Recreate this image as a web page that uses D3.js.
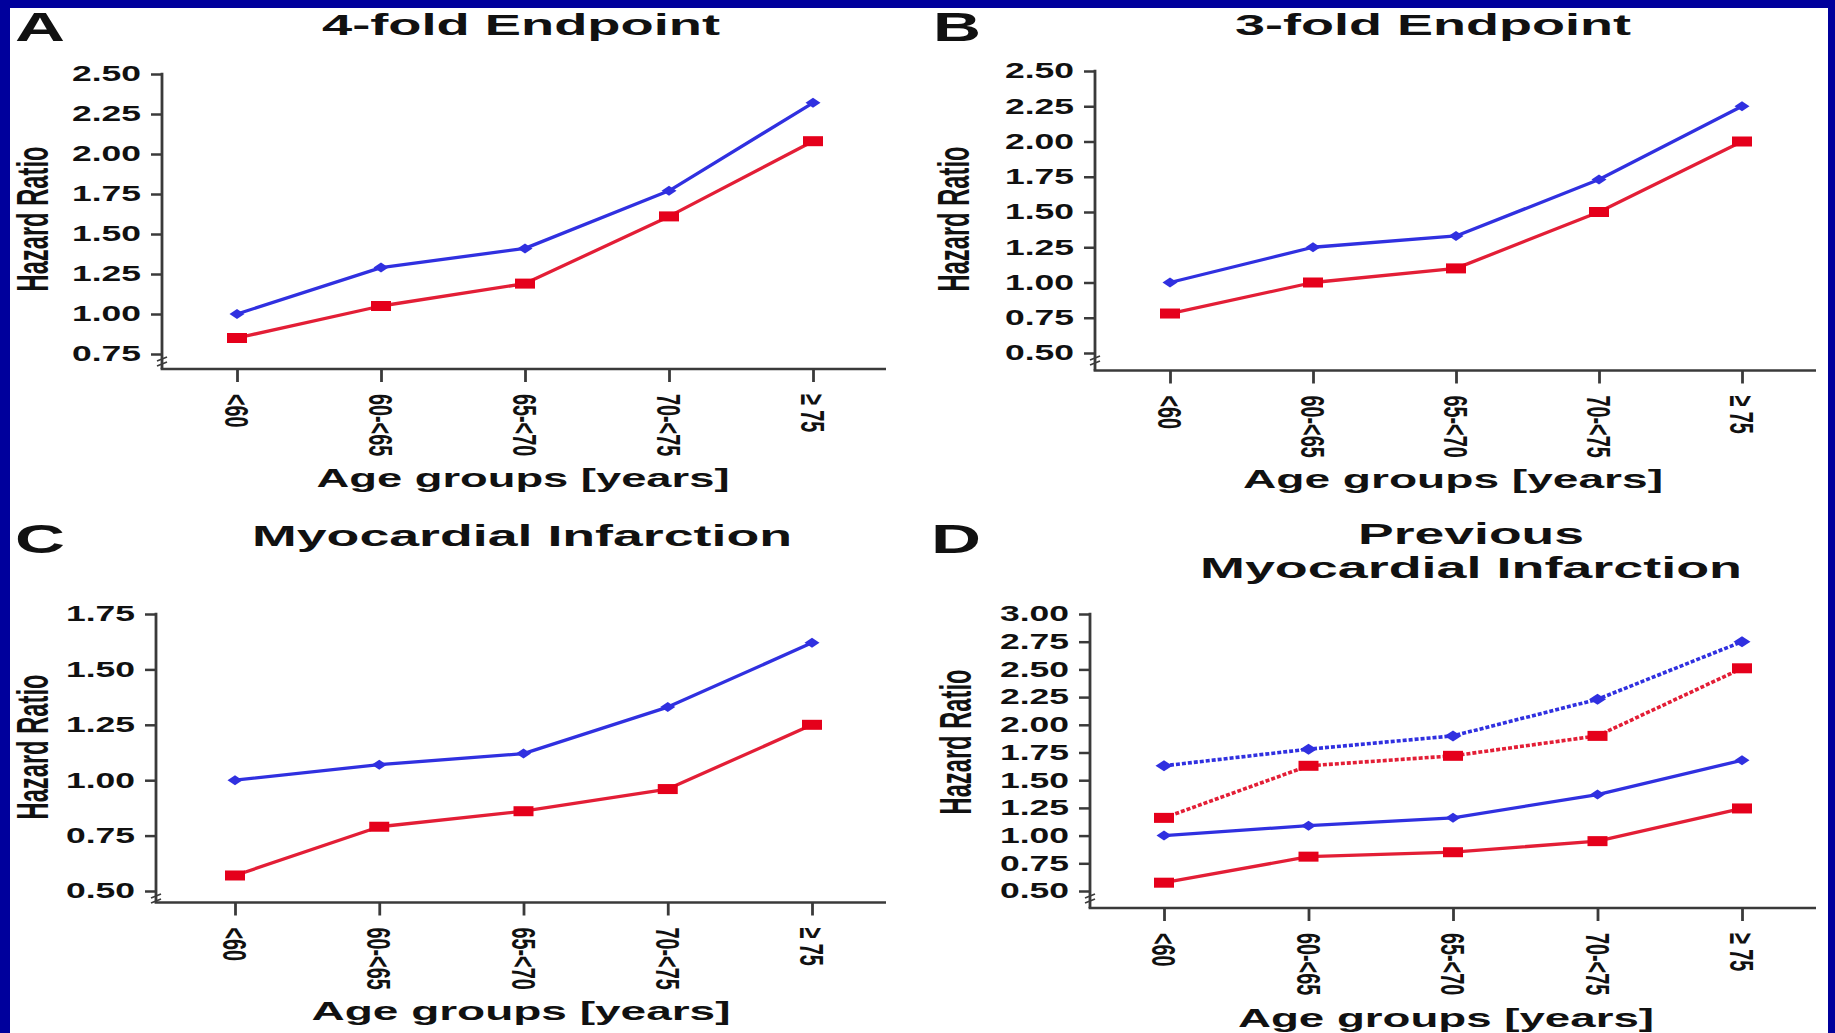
<!DOCTYPE html>
<html><head><meta charset="utf-8">
<script src="https://cdn.jsdelivr.net/npm/d3@7"></script>
<style>body{margin:0;background:#fff;} svg{display:block}</style>
</head><body>
<script>
// ---------------- DATA ----------------
const categories = ["<60", "60-<65", "65-<70", "70-<75", "\u2265 75"];

const yTicksA = [0.75, 1.00, 1.25, 1.50, 1.75, 2.00, 2.25, 2.50];
const yTicksB = [0.50, 0.75, 1.00, 1.25, 1.50, 1.75, 2.00, 2.25, 2.50];
const yTicksC = [0.50, 0.75, 1.00, 1.25, 1.50, 1.75];
const yTicksD = [0.50, 0.75, 1.00, 1.25, 1.50, 1.75, 2.00, 2.25, 2.50, 2.75, 3.00];

const blueA = [1.00, 1.29, 1.41, 1.77, 2.32];
const redA  = [0.85, 1.05, 1.19, 1.61, 2.08];
const blueB = [1.00, 1.25, 1.33, 1.73, 2.25];
const redB  = [0.78, 1.00, 1.10, 1.50, 2.00];
const blueC = [1.00, 1.07, 1.12, 1.33, 1.62];
const redC  = [0.57, 0.79, 0.86, 0.96, 1.25];
const blueDottedD = [1.63, 1.78, 1.90, 2.23, 2.75];
const redDottedD  = [1.16, 1.63, 1.72, 1.90, 2.51];
const blueSolidD  = [1.00, 1.09, 1.16, 1.37, 1.68];
const redSolidD   = [0.575, 0.81, 0.85, 0.95, 1.245];

const titles = {
  A: ["4-fold Endpoint"],
  B: ["3-fold Endpoint"],
  C: ["Myocardial Infarction"],
  D: ["Previous", "Myocardial Infarction"]
};
const yLabel = "Hazard Ratio";
const xLabel = "Age groups [years]";

// ---------------- STYLE / LAYOUT ----------------
const FONT = "'Liberation Sans', Arial, Helvetica, sans-serif";
const BLUE = "#3030e0", RED = "#e31e36", RED_MARK = "#e5001b", AXIS = "#3a3a3a", INK = "#111";

const panels = [
  { key: "A", ticks: yTicksA,
    series: [{v: blueA, c: "blue"}, {v: redA, c: "red"}],
    L: {axisX: 162, x0: 237, x1: 813, yTop: 74, yBot: 354, xAxisY: 369, xEnd: 886,
        letterX: 15, letterY: 41, letterW: 50,
        titleX: 521, titleY: [35], titleW: [398],
        hrX: 48, hrY: 219, agX: 523, agY: 487, agW: 413} },
  { key: "B", ticks: yTicksB,
    series: [{v: blueB, c: "blue"}, {v: redB, c: "red"}],
    L: {axisX: 1095, x0: 1170, x1: 1742, yTop: 71, yBot: 353, xAxisY: 370.5, xEnd: 1816,
        letterX: 933, letterY: 41, letterW: 48,
        titleX: 1433, titleY: [35], titleW: [396],
        hrX: 969, hrY: 219, agX: 1453, agY: 488, agW: 420} },
  { key: "C", ticks: yTicksC,
    series: [{v: blueC, c: "blue"}, {v: redC, c: "red"}],
    L: {axisX: 156, x0: 235, x1: 812, yTop: 614, yBot: 891, xAxisY: 902.5, xEnd: 886,
        letterX: 15, letterY: 553, letterW: 50,
        titleX: 522, titleY: [546], titleW: [540],
        hrX: 48, hrY: 747, agX: 521, agY: 1020, agW: 419} },
  { key: "D", ticks: yTicksD,
    series: [{v: blueDottedD, c: "blue", dotted: true}, {v: redDottedD, c: "red", dotted: true},
             {v: blueSolidD, c: "blue"}, {v: redSolidD, c: "red"}],
    L: {axisX: 1090, x0: 1164, x1: 1742, yTop: 614, yBot: 891, xAxisY: 908, xEnd: 1816,
        letterX: 931, letterY: 553, letterW: 50,
        titleX: 1471, titleY: [544, 578], titleW: [226, 542],
        hrX: 971, hrY: 742, agX: 1446, agY: 1027, agW: 416} }
];

// ---------------- DRAW ----------------
const W = 1835, H = 1033;
const svg = d3.select("body").append("svg").attr("width", W).attr("height", H);
svg.append("rect").attr("width", W).attr("height", H).attr("fill", "#00009c");
svg.append("rect").attr("x", 10).attr("y", 8).attr("width", 1818).attr("height", H - 8).attr("fill", "#fff");

panels.forEach(p => {
  const L = p.L;
  const g = svg.append("g");
  const x = d3.scalePoint().domain(categories).range([L.x0, L.x1]);
  const y = d3.scaleLinear().domain([p.ticks[0], p.ticks[p.ticks.length - 1]]).range([L.yBot, L.yTop]);

  // panel letter
  g.append("text").attr("x", L.letterX).attr("y", L.letterY)
    .attr("font-family", FONT).attr("font-weight", "bold").attr("font-size", 41)
    .attr("textLength", L.letterW).attr("lengthAdjust", "spacingAndGlyphs")
    .attr("fill", INK).text(p.key);

  // title
  titles[p.key].forEach((t, i) => {
    g.append("text").attr("x", L.titleX).attr("y", L.titleY[i])
      .attr("text-anchor", "middle")
      .attr("font-family", FONT).attr("font-weight", "bold").attr("font-size", 29)
      .attr("textLength", L.titleW[i]).attr("lengthAdjust", "spacingAndGlyphs")
      .attr("fill", INK).text(t);
  });

  // y axis
  const ya = g.append("g").attr("transform", `translate(${L.axisX},0)`)
    .call(d3.axisLeft(y).tickValues(p.ticks).tickFormat(d3.format(".2f")).tickSize(11).tickPadding(10));
  ya.select(".domain").remove();
  ya.selectAll(".tick line").attr("stroke", AXIS).attr("stroke-width", 2.5);
  ya.selectAll(".tick text").attr("font-family", FONT).attr("font-weight", "bold")
    .attr("font-size", 21.5).attr("fill", INK)
    .attr("textLength", 69).attr("lengthAdjust", "spacingAndGlyphs");
  g.append("line").attr("x1", L.axisX).attr("x2", L.axisX)
    .attr("y1", y(p.ticks[p.ticks.length - 1]) - 1.2).attr("y2", L.xAxisY)
    .attr("stroke", AXIS).attr("stroke-width", 2.8);

  // axis break marks
  const yb = y(p.ticks[0]);
  [5, 10].forEach(off => {
    g.append("line").attr("x1", L.axisX - 5).attr("x2", L.axisX + 5)
      .attr("y1", yb + off + 2).attr("y2", yb + off - 2)
      .attr("stroke", AXIS).attr("stroke-width", 1.6);
  });

  // x axis
  const xa = g.append("g").attr("transform", `translate(0,${L.xAxisY})`)
    .call(d3.axisBottom(x).tickSize(13).tickFormat(""));
  xa.select(".domain").remove();
  xa.selectAll(".tick line").attr("stroke", AXIS).attr("stroke-width", 2.8);
  g.append("line").attr("x1", L.axisX - 1.4).attr("x2", L.xEnd)
    .attr("y1", L.xAxisY).attr("y2", L.xAxisY)
    .attr("stroke", AXIS).attr("stroke-width", 2.4);

  // rotated category labels
  g.selectAll(".xl").data(categories).join("text").attr("class", "xl")
    .attr("transform", d => `translate(${x(d)},${L.xAxisY + 25}) rotate(90) scale(0.6,1)`)
    .attr("dy", "0.36em")
    .attr("font-family", FONT).attr("font-weight", "bold").attr("font-size", 33).attr("fill", INK)
    .text(d => d);

  // axis titles
  g.append("text").attr("transform", `translate(${L.hrX},${L.hrY}) rotate(-90)`)
    .attr("text-anchor", "middle")
    .attr("font-family", FONT).attr("font-weight", "bold").attr("font-size", 45)
    .attr("textLength", 145).attr("lengthAdjust", "spacingAndGlyphs")
    .attr("fill", INK).text(yLabel);
  g.append("text").attr("x", L.agX).attr("y", L.agY).attr("text-anchor", "middle")
    .attr("font-family", FONT).attr("font-weight", "bold").attr("font-size", 25)
    .attr("textLength", L.agW).attr("lengthAdjust", "spacingAndGlyphs")
    .attr("fill", INK).text(xLabel);

  // series
  const line = d3.line().x((d, i) => x(categories[i])).y(d => y(d));
  p.series.forEach(s => {
    g.append("path").attr("d", line(s.v)).attr("fill", "none")
      .attr("stroke", s.c === "blue" ? BLUE : RED)
      .attr("stroke-width", s.dotted ? 3.6 : 3.3)
      .attr("stroke-dasharray", s.dotted ? "4 2" : null)
      .attr("stroke-linejoin", "round");
  });
  p.series.forEach(s => {
    const pts = s.v.map((v, i) => [x(categories[i]), y(v)]);
    if (s.c === "blue") {
      const rx = s.dotted ? 8.5 : 7.5, ry = s.dotted ? 5.5 : 5;
      g.selectAll(null).data(pts).join("path")
        .attr("d", d => `M${d[0]},${d[1] - ry}L${d[0] + rx},${d[1]}L${d[0]},${d[1] + ry}L${d[0] - rx},${d[1]}Z`)
        .attr("fill", BLUE);
    } else {
      g.selectAll(null).data(pts).join("rect")
        .attr("x", d => d[0] - 10).attr("y", d => d[1] - 5)
        .attr("width", 20).attr("height", 10).attr("fill", RED_MARK);
    }
  });
});
</script>
</body></html>
